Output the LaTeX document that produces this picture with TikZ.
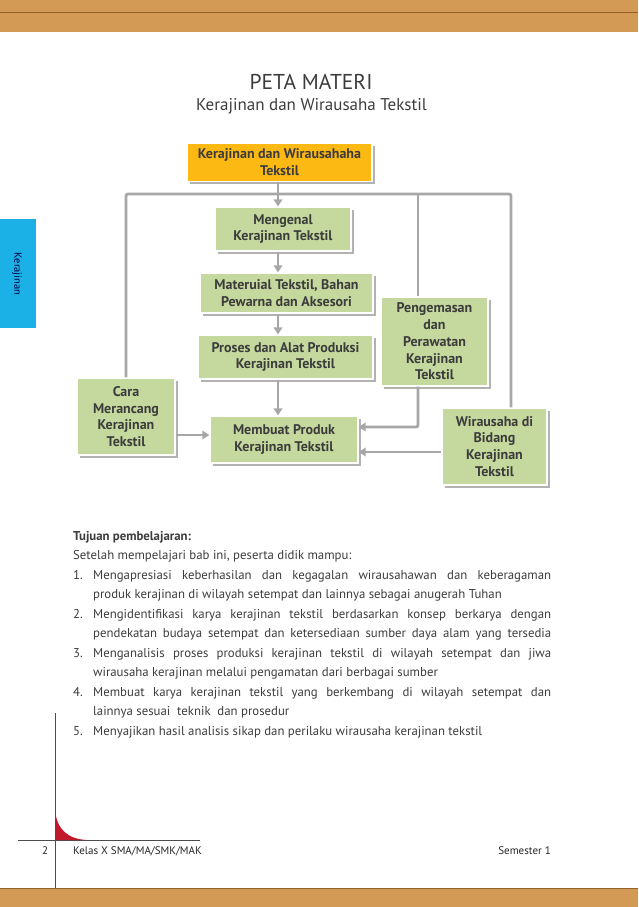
\documentclass[tikz,border=0pt]{standalone}
\usepackage{fontspec}
\setmainfont{PT Sans}
\usepackage{xcolor}
\usetikzlibrary{arrows.meta, positioning, shadows}
\definecolor{wood}{HTML}{D39A55}
\definecolor{woodline}{HTML}{94602A}
\definecolor{tab}{HTML}{1BB1E7}
\definecolor{gold}{HTML}{FDB913}
\definecolor{leaf}{HTML}{C5D89D}
\definecolor{ink}{HTML}{3C3C3C}
\definecolor{wire}{HTML}{A7A7A7}
\definecolor{corner}{HTML}{C1182B}

\begin{document}
\begin{tikzpicture}[
    x=1pt, y=-1pt,
    box/.style={draw=white, line width=1.2pt, fill=#1, drop shadow={shadow xshift=2.5pt, shadow yshift=-2.5pt, fill=black!30, opacity=1}, text=ink, align=center, inner sep=2pt, font=\bfseries\fontsize{14}{16.8}\selectfont},
    box/.default=leaf,
    flow/.style={-{Triangle[length=7pt, width=8.5pt]}, line width=2.8pt, draw=wire},
    bus/.style={line width=2.8pt, draw=wire, rounded corners=2pt},
    foot/.style={font=\fontsize{11}{13}\selectfont, text=black!85, inner sep=0pt},
  ]
  \useasboundingbox (0,0) rectangle (638,907);
  % ---- page frame
  \fill[wood] (0,0) rectangle (638,32);
  \draw[woodline, line width=0.8pt] (0,12) -- (638,12);
  \fill[wood] (0,888) rectangle (638,907);
  \draw[woodline, line width=0.8pt] (0,888.5) -- (638,888.5);
  \fill[tab] (0,219) rectangle (36,328);
  \node[rotate=-90, font=\fontsize{10.5}{12}\selectfont, text=black!75!blue] (tabtext) at (17,274) {Kerajinan};
  % ---- titles
  \node[font=\fontsize{21.5}{25}\selectfont, text=ink] (title) at (311,82) {PETA MATERI};
  \node[font=\fontsize{17}{20}\selectfont, text=ink] (subtitle) at (311.5,106) {Kerajinan dan Wirausaha Tekstil};
  % ---- boxes
  \node[box=gold, minimum width=185pt, minimum height=38pt] (root) at (279.5,162.5) {Kerajinan dan Wirausahaha\\Tekstil};
  \node[box, minimum width=136pt, minimum height=44pt] (meng) at (283,229) {Mengenal\\Kerajinan Tekstil};
  \node[box, minimum width=173pt, minimum height=40pt] (mat) at (286.5,293) {Materuial Tekstil, Bahan\\Pewarna dan Aksesori};
  \node[box, minimum width=175pt, minimum height=44pt] (pros) at (285.5,357) {Proses dan Alat Produksi\\Kerajinan Tekstil};
  \node[box, minimum width=98pt, minimum height=77pt] (cara) at (126,416.5) {Cara\\Merancang\\Kerajinan\\Tekstil};
  \node[box, minimum width=148pt, minimum height=47pt] (memb) at (284,439.5) {Membuat Produk\\Kerajinan Tekstil};
  \node[box, minimum width=107pt, minimum height=89pt] (peng) at (434.5,341.5) {Pengemasan\\dan\\Perawatan\\Kerajinan\\Tekstil};
  \node[box, minimum width=105pt, minimum height=77pt] (wira) at (494.5,446.5) {Wirausaha di\\Bidang\\Kerajinan\\Tekstil};
  % ---- connectors
  \coordinate (busL) at (126,194);
  \coordinate (busM) at (418,194);
  \coordinate (busR) at (511,194);
  \coordinate (spine) at (278,194);
  \draw[bus] (cara.north) -- (busL) -- (busR) -- (busR |- wira.north);
  \draw[bus] (busM) -- (busM |- peng.north);
  \draw[flow] (root.south -| spine) -- (meng.north -| spine);
  \draw[flow] (meng.south -| spine) -- (mat.north -| spine);
  \draw[flow] (mat.south -| spine) -- (pros.north -| spine);
  \draw[flow] (pros.south -| spine) -- (memb.north -| spine);
  \draw[flow] ([yshift=-18.5pt]cara.east) -- ([yshift=-18.5pt]cara.east -| memb.west);
  \draw[flow, rounded corners=2pt] (busM |- peng.south) |- ([yshift=12.5pt]memb.east);
  \draw[flow] ([yshift=-5.5pt]wira.west) -- ([yshift=-5.5pt]wira.west -| memb.east);
  % ---- learning goals
  \node[anchor=north west, inner sep=0pt, text=ink] (goals) at (73,531) {\parbox{478pt}{\fontsize{12.8}{19.5}\selectfont
    \textbf{Tujuan pembelajaran:}\\
    Setelah mempelajari bab ini, peserta didik mampu:\par
    \hangindent=20pt\hangafter=1\noindent\makebox[20pt][l]{1.}Mengapresiasi keberhasilan dan kegagalan wirausahawan dan keberagaman\linebreak produk kerajinan di wilayah setempat dan lainnya sebagai anugerah Tuhan\par
    {\parfillskip=0pt\hangindent=20pt\hangafter=1\noindent\makebox[20pt][l]{2.}Mengidentifikasi karya kerajinan tekstil berdasarkan konsep berkarya dengan\linebreak pendekatan budaya setempat dan ketersediaan sumber daya alam yang tersedia\par}
    \hangindent=20pt\hangafter=1\noindent\makebox[20pt][l]{3.}Menganalisis proses produksi kerajinan tekstil di wilayah setempat dan jiwa\linebreak wirausaha kerajinan melalui pengamatan dari berbagai sumber\par
    \hangindent=20pt\hangafter=1\noindent\makebox[20pt][l]{4.}Membuat karya kerajinan tekstil yang berkembang di wilayah setempat dan\linebreak lainnya sesuai\ \ teknik\ \ dan prosedur\par
    \hangindent=20pt\hangafter=1\noindent\makebox[20pt][l]{5.}Menyajikan hasil analisis sikap dan perilaku wirausaha kerajinan tekstil\par}};
  % ---- footer
  \draw[black!70, line width=0.6pt] (55,713) -- (55,888);
  \draw[black!70, line width=0.6pt] (18,840) -- (200,840);
  \fill[corner] (55,810) .. controls (57,830) and (68,839) .. (87,840) -- (55,840) -- cycle;
  \node[foot] (pageno) at (45,851) {2};
  \node[foot, anchor=west] (book) at (73,851) {Kelas X SMA/MA/SMK/MAK};
  \node[foot, anchor=east] (sem) at (551,851) {Semester 1};
\end{tikzpicture}
\end{document}
